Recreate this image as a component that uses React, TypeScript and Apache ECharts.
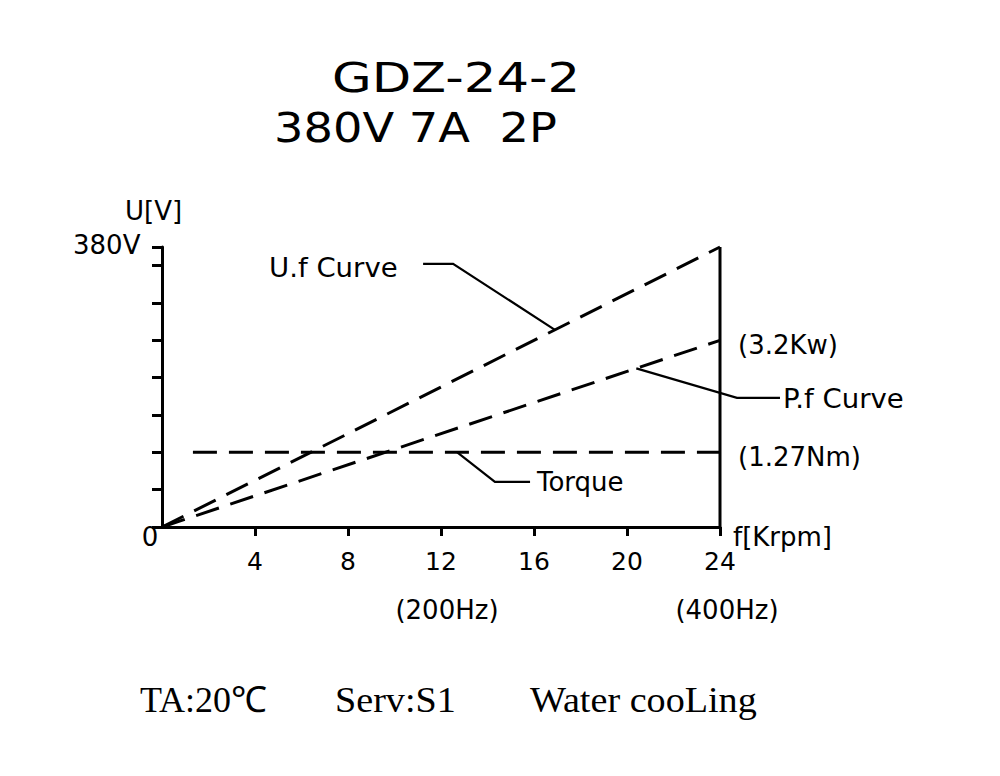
import React, { useEffect, useRef } from "react";
import * as echarts from "echarts";

// Speed axis in Krpm, vertical axis in scale divisions (380 V at division 7)
const xTicks = [4, 8, 12, 16, 20, 24];
const ufCurve = [[0, 0], [24, 7.5]];
const pfCurve = [[0, 0], [24, 5]];
const torqueLine = [[1.33, 2], [24, 2]];
const rightFrame = [[24, 0], [24, 7.5]];
const ufLeader = [[11.23, 7.05], [12.52, 7.05], [16.9, 5.28]];
const pfLeader = [[20.4, 4.25], [24.73, 3.46], [26.58, 3.46]];
const torqueLeader = [[12.7, 2], [14.32, 1.21], [15.83, 1.21]];

const titleLine1 = "GDZ-24-2";
const titleLine2 = "380V 7A  2P";
const footer = ["TA:20℃", "Serv:S1", "Water cooLing"];

const CAD = "'DejaVu Sans', sans-serif";
const SERIF = "'Liberation Serif', serif";

export default function App() {
  const ref = useRef<HTMLDivElement>(null);
  useEffect(() => {
    if (!ref.current) return;
    const chart = echarts.init(ref.current, null, { renderer: "svg" });
    const dashed = (data: number[][]) => ({
      type: "line",
      data,
      symbol: "none",
      clip: false,
      silent: true,
      lineStyle: { color: "#000", width: 3, type: [24, 12] },
    });
    const solid = (data: number[][], w: number) => ({
      type: "line",
      data,
      symbol: "none",
      clip: false,
      silent: true,
      lineStyle: { color: "#000", width: w, type: "solid" },
    });
    const txt = (text: string, x: number, y: number, size: number, align = "left", font = CAD, sx = 1) => ({
      type: "text",
      x,
      y,
      scaleX: sx,
      originX: 0,
      style: {
        text,
        fill: "#000",
        font: `${size}px ${font}`,
        textAlign: align,
        textVerticalAlign: "middle",
      },
    });
    chart.setOption({
      animation: false,
      backgroundColor: "#fff",
      grid: { left: 162, right: 280, top: 247, bottom: 249, containLabel: false },
      xAxis: {
        type: "value",
        min: 0,
        max: 24,
        interval: 4,
        splitLine: { show: false },
        axisLine: { show: true, lineStyle: { color: "#000", width: 3 } },
        axisTick: {
          show: true,
          length: 9,
          lineStyle: { color: "#000", width: 3 },
          customValues: xTicks,
        },
        axisLabel: {
          color: "#000",
          fontSize: 25,
          fontFamily: "DejaVu Sans",
          margin: 22,
          customValues: xTicks,
        },
      },
      yAxis: {
        type: "value",
        min: 0,
        max: 7.5,
        interval: 1,
        splitLine: { show: false },
        axisLine: { show: true, lineStyle: { color: "#000", width: 3 } },
        axisTick: { show: true, length: 10, lineStyle: { color: "#000", width: 3 } },
        axisLabel: { show: false },
      },
      series: [
        dashed(ufCurve),
        dashed(pfCurve),
        dashed(torqueLine),
        solid(rightFrame, 3),
      ],
    });
    const toPx = (pts: number[][]) =>
      pts.map((p) => chart.convertToPixel({ gridIndex: 0 }, p) as number[]);
    const leader = (pts: number[][]) => ({
      type: "polyline",
      silent: true,
      shape: { points: toPx(pts) },
      style: { stroke: "#000", lineWidth: 2.2, fill: "none" },
    });
    chart.setOption({
      graphic: [
        leader(ufLeader),
        leader(pfLeader),
        leader(torqueLeader),
        txt(titleLine1, 456, 78, 41, "center", CAD, 1.25),
        txt(titleLine2, 274, 127, 41, "left", CAD, 1.13),
        txt("U[V]", 125, 211, 26),
        txt("380V", 73, 245, 26),
        txt("0", 150, 537, 26, "center"),
        txt("f[Krpm]", 733, 537, 26),
        txt("U.f Curve", 269, 268, 26, "left", CAD, 1.06),
        txt("(3.2Kw)", 738, 345, 26),
        txt("P.f Curve", 783, 399, 26, "left", CAD, 1.06),
        txt("(1.27Nm)", 738, 457, 26),
        txt("Torque", 537, 482, 26),
        txt("(200Hz)", 447, 610, 26, "center"),
        txt("(400Hz)", 727, 610, 26, "center"),
        txt(footer[0], 140, 700, 36, "left", SERIF, 1.0),
        txt(footer[1], 335, 700, 36, "left", SERIF, 1.06),
        txt(footer[2], 530, 700, 36, "left", SERIF, 1.06),
      ],
    });
    return () => chart.dispose();
  }, []);
  return (
    <div
      ref={ref}
      style={{ position: "absolute", left: 0, top: 0, width: 1000, height: 776, background: "#fff" }}
    />
  );
}
